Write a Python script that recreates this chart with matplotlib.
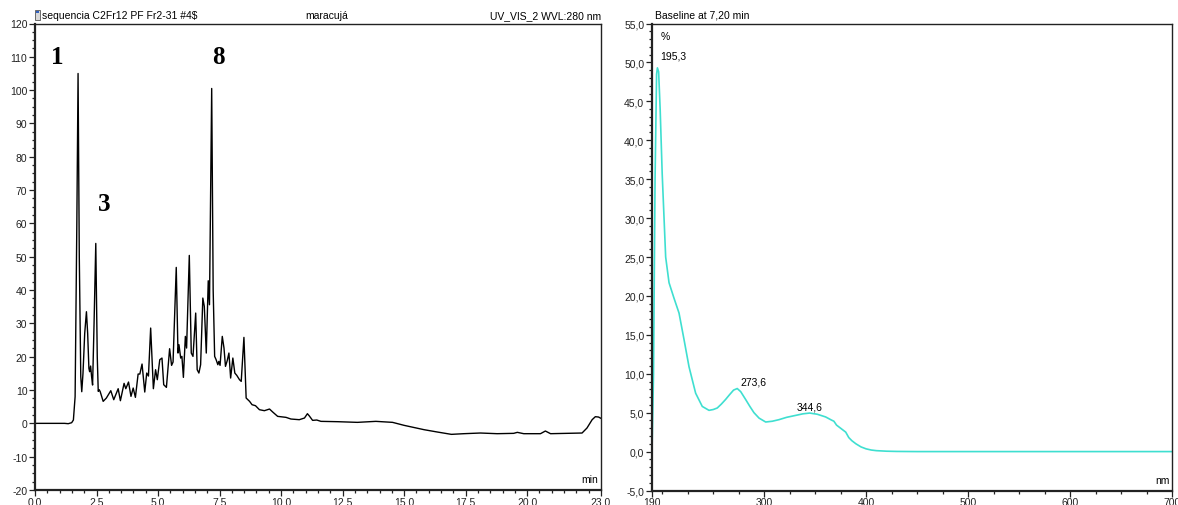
import matplotlib
matplotlib.use("Agg")
import matplotlib.pyplot as plt
from matplotlib.ticker import MultipleLocator, FixedLocator, FuncFormatter
from matplotlib.patches import Rectangle

plt.rcParams['font.family'] = ['Liberation Sans', 'DejaVu Sans']

# --- Chromatogram (UV_VIS_2, 280 nm) ---
chrom_t = [0.0, 1.2, 1.35, 1.49, 1.56, 1.63, 1.70, 1.75, 1.80, 1.86, 1.90, 1.95, 2.02,
           2.09, 2.14, 2.19, 2.22, 2.26, 2.30, 2.34, 2.40, 2.47, 2.53, 2.57, 2.61, 2.65,
           2.71, 2.77, 2.90, 3.08, 3.20, 3.38, 3.47, 3.62, 3.69, 3.80, 3.90, 3.99, 4.08,
           4.19, 4.26, 4.35, 4.46, 4.54, 4.61, 4.70, 4.81, 4.90, 4.97, 5.07, 5.16, 5.23,
           5.34, 5.47, 5.55, 5.61, 5.74, 5.81, 5.85, 5.92, 5.97, 6.03, 6.11, 6.16, 6.27,
           6.35, 6.42, 6.53, 6.59, 6.66, 6.73, 6.82, 6.88, 6.96, 7.04, 7.09, 7.18, 7.24,
           7.30, 7.36, 7.43, 7.47, 7.52, 7.61, 7.68, 7.74, 7.81, 7.88, 7.95, 8.04, 8.12,
           8.20, 8.31, 8.38, 8.49, 8.58, 8.72, 8.82, 8.96, 9.12, 9.32, 9.53, 9.66, 9.86,
           10.2, 10.4, 10.74, 10.95, 11.07, 11.15, 11.28, 11.45, 11.62, 12.3, 13.1, 13.85,
           14.53, 15.0, 15.81, 16.35, 16.92, 17.43, 18.1, 18.78, 19.45, 19.6, 19.86, 20.54,
           20.74, 20.95, 22.23, 22.43, 22.64, 22.77, 22.9, 23.0]
chrom_mau = [0.0, 0.0, -0.1, 0.2, 1.0, 8.0, 60.0, 105.0, 50.0, 14.0, 9.5, 15.0, 27.0,
             33.5, 27.0, 16.5, 15.5, 17.2, 14.0, 11.5, 30.0, 54.0, 20.0, 9.6, 10.1, 9.5,
             8.0, 6.6, 7.6, 9.8, 7.1, 10.4, 6.8, 12.0, 10.4, 12.4, 8.1, 10.6, 7.8,
             14.8, 14.8, 17.8, 9.4, 15.1, 14.2, 28.6, 10.4, 16.1, 13.1, 19.1, 19.6, 11.6,
             10.8, 22.4, 17.4, 18.4, 46.8, 21.1, 23.6, 19.6, 20.1, 13.8, 26.1, 22.6, 50.4,
             21.1, 20.1, 33.1, 16.1, 15.1, 17.6, 37.6, 35.1, 21.1, 42.8, 35.6, 100.5, 40.0,
             20.1, 19.1, 17.6, 18.6, 17.4, 26.1, 22.6, 17.1, 18.8, 21.1, 13.6, 19.6, 15.1,
             14.4, 13.1, 12.6, 25.8, 7.6, 6.6, 5.6, 5.3, 4.1, 3.8, 4.3, 3.4, 2.1,
             1.8, 1.3, 1.1, 1.6, 2.9, 2.2, 0.9, 1.0, 0.6, 0.5, 0.3, 0.6,
             0.3, -0.6, -1.9, -2.6, -3.3, -3.1, -2.9, -3.1, -3.0, -2.7, -3.1, -3.1,
             -2.3, -3.1, -2.9, -1.4, 1.1, 2.0, 1.9, 1.5]

peak_labels = ["1", "3", "8"]
peak_label_pos = [(0.9, 110.0), (2.8, 66.0), (7.45, 110.0)]

chrom_xticks = [0.0, 2.5, 5.0, 7.5, 10.0, 12.5, 15.0, 17.5, 20.0, 23.0]
chrom_yticks = list(range(-20, 121, 10))

# --- UV spectrum of the peak at 7.20 min ---
spec_nm = [190, 191.5, 193, 194.5, 195.3, 196.5, 198, 200, 203.4, 206.7, 211.6, 216.5,
           221.4, 226.3, 232.8, 239.3, 245.9, 250, 254, 258, 262.2, 266, 270, 273.6,
           277, 281.8, 286, 290, 295, 301.5, 308, 314.5, 322, 330.9, 338, 344.6, 352,
           360.3, 366, 368.4, 371, 376, 380, 383, 386, 390, 395, 400, 405, 410, 420,
           430, 450, 500, 600, 700]
spec_pct = [0.0, 10.0, 35.0, 48.5, 49.3, 48.8, 44.0, 35.7, 25.0, 21.7, 19.7, 17.8,
            14.4, 10.9, 7.5, 5.8, 5.3, 5.4, 5.6, 6.1, 6.7, 7.3, 7.9, 8.1,
            7.7, 6.7, 5.8, 5.0, 4.3, 3.8, 3.9, 4.1, 4.4, 4.65, 4.85, 4.95, 4.8,
            4.45, 4.05, 3.9, 3.4, 2.9, 2.5, 1.8, 1.4, 1.0, 0.6, 0.35, 0.2, 0.12, 0.05,
            0.02, 0.0, 0.0, 0.0, 0.0]
spec_peaks = [195.3, 273.6, 344.6]
spec_peak_vals = [49.3, 8.1, 4.95]
# label offsets (points) from each maximum
spec_label_offsets = [(2.0, 8.6), (2.0, 4.8), (-9.0, 5.0)]

W, H = 1178, 506
fig = plt.figure(figsize=(W / 100, H / 100), dpi=100)


def frac_box(x0, x1, ytop, ybot):
    return [x0 / W, (H - ybot) / H, (x1 - x0) / W, (ybot - ytop) / H]


tick_fs = 7.5
ax1 = fig.add_axes(frac_box(35, 601, 24.5, 491))
ax2 = fig.add_axes(frac_box(652, 1172, 24.5, 491.5))

for ax in (ax1, ax2):
    for side, sp in ax.spines.items():
        sp.set_color('#222222')
        sp.set_linewidth(1.6 if side in ('left', 'bottom') else 1.0)
    ax.tick_params(axis='both', which='major', direction='out', length=4,
                   width=0.9, labelsize=tick_fs, pad=1.5, colors='#222222')
    ax.tick_params(axis='x', which='major', pad=0.8)
    ax.tick_params(axis='both', which='minor', direction='out', length=2.5, width=0.9,
                   colors='#222222')

# Chromatogram panel
ax1.plot(chrom_t, chrom_mau, color='black', lw=1.0)
ax1.set_xlim(0, 23.0)
ax1.set_ylim(-20, 120)
ax1.xaxis.set_major_locator(FixedLocator(chrom_xticks))
ax1.xaxis.set_minor_locator(MultipleLocator(0.5))
ax1.xaxis.set_major_formatter(FuncFormatter(lambda v, p: f"{v:.1f}"))
ax1.yaxis.set_major_locator(FixedLocator(chrom_yticks))
ax1.yaxis.set_minor_locator(MultipleLocator(2.5))
ax1.yaxis.set_major_formatter(FuncFormatter(lambda v, p: f"{int(round(v))}"))
ax1.text(0.995, 0.012, "min", transform=ax1.transAxes, ha='right', va='bottom', fontsize=7.5)

for lab, (tx, ty) in zip(peak_labels, peak_label_pos):
    ax1.text(tx, ty, lab, ha='center', va='center', fontsize=18, fontweight='bold',
             family='Liberation Serif')

# Spectrum panel
ax2.plot(spec_nm, spec_pct, color='#3fdfd0', lw=1.2)
ax2.set_xlim(190, 700)
ax2.set_ylim(-5, 55)
ax2.xaxis.set_major_locator(FixedLocator([190, 300, 400, 500, 600, 700]))
ax2.xaxis.set_minor_locator(FixedLocator(list(range(200, 700, 25))))
ax2.yaxis.set_major_locator(MultipleLocator(5))
ax2.yaxis.set_minor_locator(MultipleLocator(1))
ax2.yaxis.set_major_formatter(FuncFormatter(lambda v, p: f"{v:.1f}".replace('.', ',')))
ax2.text(0.995, 0.012, "nm", transform=ax2.transAxes, ha='right', va='bottom', fontsize=7.5)
ax2.text(0.016, 0.985, "%", transform=ax2.transAxes, ha='left', va='top', fontsize=7.5)

for nm, val, off in zip(spec_peaks, spec_peak_vals, spec_label_offsets):
    ax2.annotate(f"{nm:.1f}".replace('.', ','), xy=(nm, val), xytext=off,
                 textcoords='offset points', ha='left', va='center', fontsize=7.5)

# Header lines above each panel
ytxt = 1 - 16 / H
fig.text(42 / W, ytxt, "sequencia C2Fr12 PF Fr2-31 #4$", ha='left', va='center', fontsize=7.5)
fig.text(327 / W, ytxt, "maracujá", ha='center', va='center', fontsize=7.5)
fig.text(601 / W, ytxt, "UV_VIS_2 WVL:280 nm", ha='right', va='center', fontsize=7.5)
fig.text(655 / W, ytxt, "Baseline at 7,20 min", ha='left', va='center', fontsize=7.5)

# small document icon next to the sample name
fig.patches.append(Rectangle((35 / W, 1 - 21 / H), 5 / W, 10 / H, transform=fig.transFigure,
                             facecolor='#d8d8d8', edgecolor='#555555', lw=0.6))
fig.patches.append(Rectangle((36 / W, 1 - 14 / H), 3 / W, 2 / H, transform=fig.transFigure,
                             facecolor='#3060c0', edgecolor='none'))

fig.savefig("out.png", dpi=100)
